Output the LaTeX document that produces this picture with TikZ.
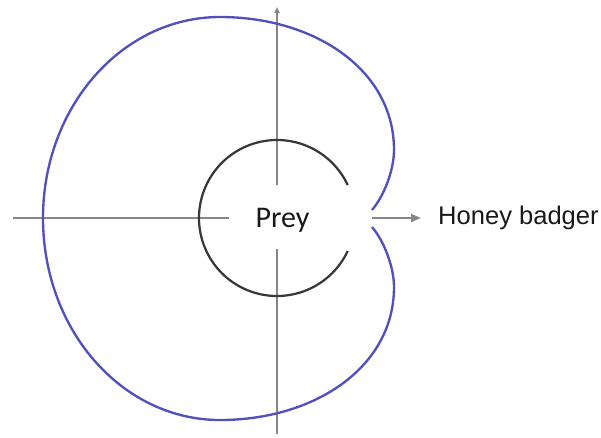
\documentclass[tikz,border=0pt]{standalone}
\usepackage{fontspec}
\setmainfont{Liberation Sans}
\newfontfamily\preyfont{Carlito}
\usepackage{xcolor}
\usetikzlibrary{arrows.meta,positioning,calc}
\definecolor{axisgray}{RGB}{135,135,135}
\definecolor{ringgray}{RGB}{55,55,55}
\definecolor{pursuitblue}{RGB}{80,80,190}
\definecolor{labelblack}{RGB}{25,25,25}

\begin{document}
\begin{tikzpicture}[x=0.03cm, y=-0.03cm,
  axis/.style={draw=axisgray, line width=1.6pt},
  arr/.style={axis, -{Triangle[length=3mm, width=2.4mm]}},
  ring/.style={draw=ringgray, line width=1.9pt},
  pursuit/.style={draw=pursuitblue, line width=2pt, line join=round},
  lbl/.style={text=labelblack, inner ysep=0pt}]
\useasboundingbox (0,0) rectangle (601,437);
\coordinate (xl) at (13,218);
\coordinate (yt) at (277,7);
\coordinate (yb) at (277,434);
\coordinate (cusp) at (372,218);
\node[lbl, font=\preyfont\fontsize{25.6}{30}\selectfont, inner xsep=0.78cm, text height=1.26cm, text depth=0.66cm, anchor=base] (prey) at (282.5,227) {Prey};
\node[lbl, font=\fontsize{21.8}{26}\selectfont, inner xsep=0.51cm, anchor=west] (badger) at (421,218) {Honey badger};
% axes, broken round the prey label
\draw[axis] (xl) -- (xl -| prey.west);
\draw[axis, -{Triangle[length=1.8mm, width=1.5mm, fill=ringgray]}] (prey.north -| yt) -- (yt);
\draw[axis] (prey.south -| yb) -- (yb);
\draw[arr] (cusp) -- (badger.west);
% prey ring, open towards the badger
\draw[ring] (277,218) ++(25:78) arc[start angle=25, end angle=335, radius=78];
% pursuit curve
\draw[pursuit] (372,210) .. controls (384,196) and (394,170) .. (394,150)
  .. controls (394,70) and (315,17) .. (220,17)
  .. controls (122,17) and (43,107) .. (43,218)
  .. controls (43,330) and (122,420) .. (220,420)
  .. controls (315,420) and (394,367) .. (394,287)
  .. controls (394,267) and (384,241) .. (372,227);
\end{tikzpicture}
\end{document}
